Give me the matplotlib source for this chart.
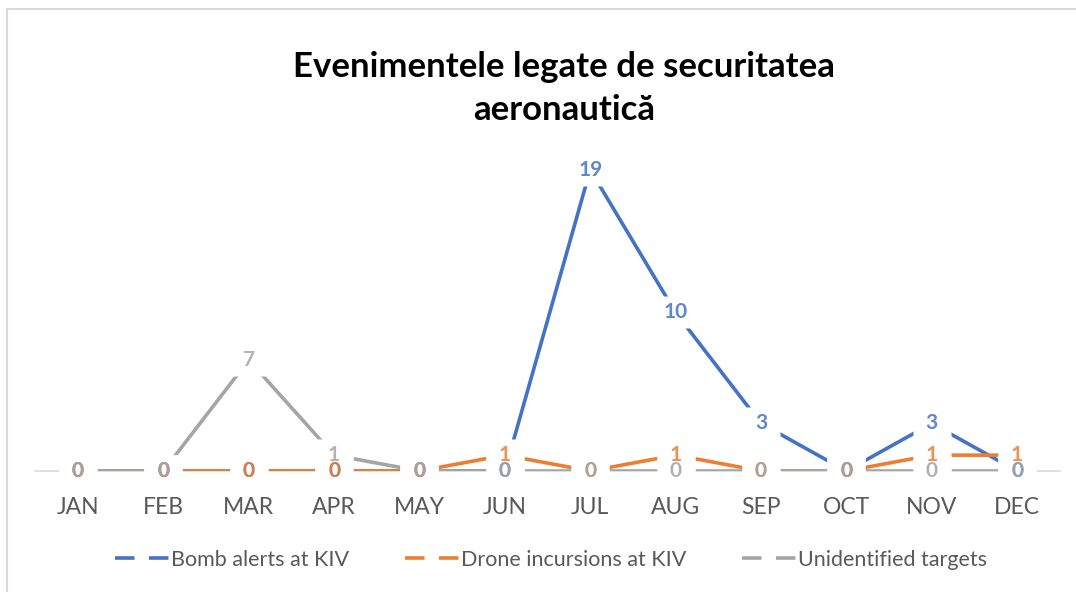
import matplotlib.pyplot as plt
import matplotlib.patches as patches
from matplotlib.lines import Line2D

plt.rcParams['font.family'] = ['Lato', 'DejaVu Sans']

luni = ["JAN", "FEB", "MAR", "APR", "MAY", "JUN", "JUL", "AUG", "SEP", "OCT", "NOV", "DEC"]

bomb_alerts = [0, 0, 0, 0, 0, 0, 19, 10, 3, 0, 3, 0]
drone_incursions = [0, 0, 0, 0, 0, 1, 0, 1, 0, 0, 1, 1]
unidentified = [0, 0, 7, 1, 0, 0, 0, 0, 0, 0, 0, 0]

serii = [
    ("Bomb alerts at KIV", bomb_alerts, "#4472C4"),
    ("Drone incursions at KIV", drone_incursions, "#ED7D31"),
    ("Unidentified targets", unidentified, "#A5A5A5"),
]

fig = plt.figure(figsize=(10.76, 5.92), dpi=100)
ax = fig.add_axes([0.0328, 0.2044, 0.9521, 0.5355])

x = list(range(len(luni)))

# linii
for i, (nume, vals, culoare) in enumerate(serii):
    ax.plot(x, vals, color=culoare, linewidth=2.6, zorder=2 + i * 0.1, solid_capstyle="butt")

# fundal alb sub etichete (taie liniile ca in Excel)
cutie = [(-1.0, -0.85), (1.0, -0.85), (1.0, 0.85), (-1.0, 0.85), (-1.0, -0.85)]
for i, (nume, vals, culoare) in enumerate(serii):
    ax.plot(x, vals, linestyle="none", marker=cutie, markersize=27, markerfacecolor="white",
            markeredgecolor="none", zorder=4)

# etichete de date
for i, (nume, vals, culoare) in enumerate(serii):
    for xi, v in zip(x, vals):
        ax.text(xi, v, str(v), ha="center", va="center", fontsize=15, fontweight="bold",
                color=culoare, alpha=0.85, zorder=5 + i * 0.1)

ax.set_xlim(-0.5, 11.5)
ax.set_ylim(0, 20)
ax.set_xticks(x)
ax.set_xticklabels(luni, fontsize=16.5, color="#595959")
ax.tick_params(axis="x", length=0, pad=19)
ax.set_yticks([])
for s in ["top", "right", "left"]:
    ax.spines[s].set_visible(False)
ax.spines["bottom"].set_color("#D9D9D9")
ax.spines["bottom"].set_linewidth(1.2)
ax.spines["bottom"].set_zorder(1)

fig.text(0.524, 0.851, "Evenimentele legate de securitatea\naeronautică", ha="center", va="center",
         fontsize=25, fontweight="bold", color="black", linespacing=1.42)

handles = [Line2D([0], [0], color=c, linewidth=2.6, dashes=(5.4, 4.0)) for _, _, c in serii]
fig.legend(handles, [n for n, _, _ in serii], loc="center", bbox_to_anchor=(0.512, 0.054),
           ncol=3, frameon=False, fontsize=15.5, handlelength=2.5, handletextpad=0.1,
           columnspacing=2.6, labelcolor="#595959")

# chenarul zonei graficului
fig.patches.append(patches.Rectangle((7 / 1076, -0.1), 2, 1.1 - 9 / 592, transform=fig.transFigure,
                                     fill=False, edgecolor="#D9D9D9", linewidth=1.5, clip_on=False))

plt.savefig("out.png", dpi=100)
